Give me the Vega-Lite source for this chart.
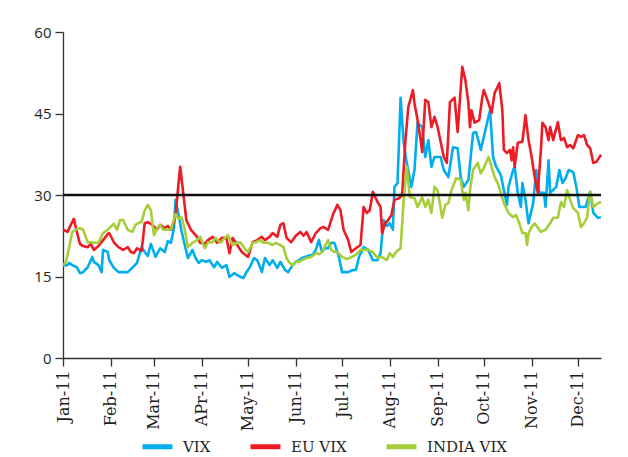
{
  "$schema": "https://vega.github.io/schema/vega-lite/v6.json",
  "autosize": {"type": "none"},
  "width": 538,
  "height": 326,
  "padding": {"left": 63, "top": 32, "right": 27, "bottom": 99},
  "background": "white",
  "config": {"view": {"stroke": null}, "axis": {"grid": false}},
  "datasets": {
    "vix": [
      {"date":"2011-01-01","series":"VIX","value":17.1},{"date":"2011-01-04","series":"VIX","value":17.1},{"date":"2011-01-05","series":"VIX","value":17.5},{"date":"2011-01-07","series":"VIX","value":17.1},{"date":"2011-01-10","series":"VIX","value":16.7},{"date":"2011-01-12","series":"VIX","value":15.6},{"date":"2011-01-14","series":"VIX","value":15.8},{"date":"2011-01-17","series":"VIX","value":16.7},{"date":"2011-01-20","series":"VIX","value":18.6},{"date":"2011-01-21","series":"VIX","value":17.7},{"date":"2011-01-24","series":"VIX","value":17.1},{"date":"2011-01-26","series":"VIX","value":15.8},{"date":"2011-01-27","series":"VIX","value":19.9},{"date":"2011-01-30","series":"VIX","value":19.5},{"date":"2011-01-31","series":"VIX","value":18.0},
      {"date":"2011-02-03","series":"VIX","value":16.6},{"date":"2011-02-06","series":"VIX","value":15.8},{"date":"2011-02-09","series":"VIX","value":15.8},{"date":"2011-02-12","series":"VIX","value":15.8},{"date":"2011-02-15","series":"VIX","value":16.6},{"date":"2011-02-18","series":"VIX","value":17.5},{"date":"2011-02-21","series":"VIX","value":20.4},{"date":"2011-02-23","series":"VIX","value":19.5},{"date":"2011-02-25","series":"VIX","value":18.8},{"date":"2011-02-27","series":"VIX","value":21.0},
      {"date":"2011-03-02","series":"VIX","value":18.6},{"date":"2011-03-05","series":"VIX","value":20.2},{"date":"2011-03-08","series":"VIX","value":19.5},{"date":"2011-03-10","series":"VIX","value":21.5},{"date":"2011-03-12","series":"VIX","value":21.2},{"date":"2011-03-14","series":"VIX","value":23.9},{"date":"2011-03-15","series":"VIX","value":29.1},{"date":"2011-03-17","series":"VIX","value":26.3},{"date":"2011-03-19","series":"VIX","value":23.2},{"date":"2011-03-21","series":"VIX","value":20.8},{"date":"2011-03-23","series":"VIX","value":18.4},{"date":"2011-03-26","series":"VIX","value":19.9},{"date":"2011-03-28","series":"VIX","value":18.4},{"date":"2011-03-30","series":"VIX","value":17.5},
      {"date":"2011-04-01","series":"VIX","value":18.0},{"date":"2011-04-04","series":"VIX","value":17.7},{"date":"2011-04-06","series":"VIX","value":18.0},{"date":"2011-04-09","series":"VIX","value":16.7},{"date":"2011-04-11","series":"VIX","value":17.7},{"date":"2011-04-14","series":"VIX","value":16.6},{"date":"2011-04-17","series":"VIX","value":17.1},{"date":"2011-04-19","series":"VIX","value":14.9},{"date":"2011-04-22","series":"VIX","value":15.6},{"date":"2011-04-25","series":"VIX","value":15.1},{"date":"2011-04-28","series":"VIX","value":14.7},{"date":"2011-04-30","series":"VIX","value":15.8},
      {"date":"2011-05-02","series":"VIX","value":16.6},{"date":"2011-05-05","series":"VIX","value":18.4},{"date":"2011-05-07","series":"VIX","value":18.0},{"date":"2011-05-09","series":"VIX","value":16.6},{"date":"2011-05-10","series":"VIX","value":15.8},{"date":"2011-05-12","series":"VIX","value":18.4},{"date":"2011-05-15","series":"VIX","value":17.1},{"date":"2011-05-17","series":"VIX","value":18.0},{"date":"2011-05-20","series":"VIX","value":16.6},{"date":"2011-05-22","series":"VIX","value":17.7},{"date":"2011-05-25","series":"VIX","value":16.2},{"date":"2011-05-27","series":"VIX","value":15.8},{"date":"2011-05-30","series":"VIX","value":17.1},
      {"date":"2011-06-01","series":"VIX","value":17.7},{"date":"2011-06-03","series":"VIX","value":18.0},{"date":"2011-06-05","series":"VIX","value":18.4},{"date":"2011-06-07","series":"VIX","value":18.6},{"date":"2011-06-09","series":"VIX","value":18.8},{"date":"2011-06-12","series":"VIX","value":19.0},{"date":"2011-06-14","series":"VIX","value":19.9},{"date":"2011-06-16","series":"VIX","value":21.7},{"date":"2011-06-18","series":"VIX","value":19.5},{"date":"2011-06-20","series":"VIX","value":20.2},{"date":"2011-06-22","series":"VIX","value":20.2},{"date":"2011-06-24","series":"VIX","value":21.2},{"date":"2011-06-26","series":"VIX","value":21.2},{"date":"2011-06-29","series":"VIX","value":18.6},
      {"date":"2011-07-01","series":"VIX","value":15.8},{"date":"2011-07-03","series":"VIX","value":15.8},{"date":"2011-07-05","series":"VIX","value":15.8},{"date":"2011-07-08","series":"VIX","value":16.2},{"date":"2011-07-10","series":"VIX","value":16.2},{"date":"2011-07-12","series":"VIX","value":18.6},{"date":"2011-07-15","series":"VIX","value":20.4},{"date":"2011-07-18","series":"VIX","value":19.9},{"date":"2011-07-21","series":"VIX","value":18.0},{"date":"2011-07-24","series":"VIX","value":18.0},{"date":"2011-07-26","series":"VIX","value":19.3},{"date":"2011-07-28","series":"VIX","value":25.4},{"date":"2011-07-30","series":"VIX","value":24.3},
      {"date":"2011-08-01","series":"VIX","value":24.8},{"date":"2011-08-03","series":"VIX","value":23.6},{"date":"2011-08-04","series":"VIX","value":31.5},{"date":"2011-08-06","series":"VIX","value":32.2},{"date":"2011-08-08","series":"VIX","value":47.9},{"date":"2011-08-10","series":"VIX","value":39.6},{"date":"2011-08-12","series":"VIX","value":35.9},{"date":"2011-08-15","series":"VIX","value":31.5},{"date":"2011-08-17","series":"VIX","value":34.6},{"date":"2011-08-19","series":"VIX","value":43.3},{"date":"2011-08-22","series":"VIX","value":42.5},{"date":"2011-08-24","series":"VIX","value":37.0},{"date":"2011-08-26","series":"VIX","value":40.1},{"date":"2011-08-28","series":"VIX","value":35.2},{"date":"2011-08-30","series":"VIX","value":37.0},
      {"date":"2011-09-03","series":"VIX","value":37.0},{"date":"2011-09-05","series":"VIX","value":34.6},{"date":"2011-09-08","series":"VIX","value":33.3},{"date":"2011-09-11","series":"VIX","value":38.8},{"date":"2011-09-14","series":"VIX","value":38.6},{"date":"2011-09-16","series":"VIX","value":33.3},{"date":"2011-09-18","series":"VIX","value":31.5},{"date":"2011-09-21","series":"VIX","value":32.8},{"date":"2011-09-24","series":"VIX","value":41.4},{"date":"2011-09-26","series":"VIX","value":41.6},{"date":"2011-09-29","series":"VIX","value":38.3},
      {"date":"2011-10-01","series":"VIX","value":40.7},{"date":"2011-10-04","series":"VIX","value":44.4},{"date":"2011-10-05","series":"VIX","value":45.6},{"date":"2011-10-07","series":"VIX","value":37.0},{"date":"2011-10-09","series":"VIX","value":35.2},{"date":"2011-10-12","series":"VIX","value":33.7},{"date":"2011-10-14","series":"VIX","value":30.9},{"date":"2011-10-16","series":"VIX","value":28.2},{"date":"2011-10-17","series":"VIX","value":31.5},{"date":"2011-10-20","series":"VIX","value":34.6},{"date":"2011-10-21","series":"VIX","value":35.2},{"date":"2011-10-23","series":"VIX","value":30.4},{"date":"2011-10-25","series":"VIX","value":27.8},{"date":"2011-10-26","series":"VIX","value":32.2},{"date":"2011-10-28","series":"VIX","value":29.1},{"date":"2011-10-30","series":"VIX","value":24.8},
      {"date":"2011-11-02","series":"VIX","value":28.5},{"date":"2011-11-04","series":"VIX","value":34.6},{"date":"2011-11-06","series":"VIX","value":30.4},{"date":"2011-11-09","series":"VIX","value":30.4},{"date":"2011-11-10","series":"VIX","value":27.8},{"date":"2011-11-12","series":"VIX","value":36.4},{"date":"2011-11-13","series":"VIX","value":30.4},{"date":"2011-11-17","series":"VIX","value":31.5},{"date":"2011-11-19","series":"VIX","value":34.6},{"date":"2011-11-21","series":"VIX","value":32.2},{"date":"2011-11-23","series":"VIX","value":33.1},{"date":"2011-11-25","series":"VIX","value":34.6},{"date":"2011-11-28","series":"VIX","value":34.2},{"date":"2011-11-30","series":"VIX","value":31.5},
      {"date":"2011-12-02","series":"VIX","value":27.8},{"date":"2011-12-06","series":"VIX","value":27.8},{"date":"2011-12-09","series":"VIX","value":30.6},{"date":"2011-12-11","series":"VIX","value":26.7},{"date":"2011-12-14","series":"VIX","value":25.8},{"date":"2011-12-16","series":"VIX","value":25.9}
    ],
    "eu": [
      {"date":"2011-01-01","series":"EU VIX","value":23.6},{"date":"2011-01-04","series":"EU VIX","value":23.2},{"date":"2011-01-05","series":"EU VIX","value":23.9},{"date":"2011-01-08","series":"EU VIX","value":25.6},{"date":"2011-01-10","series":"EU VIX","value":23.2},{"date":"2011-01-12","series":"EU VIX","value":21.0},{"date":"2011-01-14","series":"EU VIX","value":20.6},{"date":"2011-01-17","series":"EU VIX","value":20.4},{"date":"2011-01-19","series":"EU VIX","value":21.0},{"date":"2011-01-21","series":"EU VIX","value":19.9},{"date":"2011-01-24","series":"EU VIX","value":20.6},{"date":"2011-01-27","series":"EU VIX","value":21.7},{"date":"2011-01-30","series":"EU VIX","value":22.8},{"date":"2011-01-31","series":"EU VIX","value":23.0},
      {"date":"2011-02-03","series":"EU VIX","value":21.3},{"date":"2011-02-06","series":"EU VIX","value":20.4},{"date":"2011-02-09","series":"EU VIX","value":19.9},{"date":"2011-02-12","series":"EU VIX","value":20.4},{"date":"2011-02-14","series":"EU VIX","value":19.5},{"date":"2011-02-16","series":"EU VIX","value":19.3},{"date":"2011-02-18","series":"EU VIX","value":20.2},{"date":"2011-02-21","series":"EU VIX","value":19.7},{"date":"2011-02-23","series":"EU VIX","value":24.8},{"date":"2011-02-25","series":"EU VIX","value":25.0},{"date":"2011-02-27","series":"EU VIX","value":24.7},
      {"date":"2011-03-03","series":"EU VIX","value":23.7},{"date":"2011-03-05","series":"EU VIX","value":24.5},{"date":"2011-03-08","series":"EU VIX","value":23.9},{"date":"2011-03-10","series":"EU VIX","value":24.3},{"date":"2011-03-12","series":"EU VIX","value":23.6},{"date":"2011-03-14","series":"EU VIX","value":25.0},{"date":"2011-03-15","series":"EU VIX","value":26.3},{"date":"2011-03-18","series":"EU VIX","value":35.2},{"date":"2011-03-20","series":"EU VIX","value":30.4},{"date":"2011-03-22","series":"EU VIX","value":25.4},{"date":"2011-03-25","series":"EU VIX","value":23.6},{"date":"2011-03-29","series":"EU VIX","value":22.3},{"date":"2011-03-31","series":"EU VIX","value":21.2},
      {"date":"2011-04-03","series":"EU VIX","value":21.0},{"date":"2011-04-05","series":"EU VIX","value":21.7},{"date":"2011-04-08","series":"EU VIX","value":22.3},{"date":"2011-04-11","series":"EU VIX","value":21.2},{"date":"2011-04-14","series":"EU VIX","value":22.1},{"date":"2011-04-17","series":"EU VIX","value":22.1},{"date":"2011-04-19","series":"EU VIX","value":19.3},{"date":"2011-04-21","series":"EU VIX","value":22.1},{"date":"2011-04-24","series":"EU VIX","value":20.8},{"date":"2011-04-27","series":"EU VIX","value":19.5},
      {"date":"2011-05-01","series":"EU VIX","value":18.6},{"date":"2011-05-04","series":"EU VIX","value":21.3},{"date":"2011-05-07","series":"EU VIX","value":21.7},{"date":"2011-05-10","series":"EU VIX","value":22.3},{"date":"2011-05-12","series":"EU VIX","value":21.7},{"date":"2011-05-15","series":"EU VIX","value":22.3},{"date":"2011-05-17","series":"EU VIX","value":23.0},{"date":"2011-05-20","series":"EU VIX","value":22.3},{"date":"2011-05-22","series":"EU VIX","value":24.5},{"date":"2011-05-24","series":"EU VIX","value":24.8},{"date":"2011-05-26","series":"EU VIX","value":22.1},{"date":"2011-05-29","series":"EU VIX","value":21.3},
      {"date":"2011-06-01","series":"EU VIX","value":22.5},{"date":"2011-06-04","series":"EU VIX","value":23.2},{"date":"2011-06-06","series":"EU VIX","value":22.5},{"date":"2011-06-08","series":"EU VIX","value":23.2},{"date":"2011-06-11","series":"EU VIX","value":21.3},{"date":"2011-06-14","series":"EU VIX","value":23.0},{"date":"2011-06-17","series":"EU VIX","value":23.9},{"date":"2011-06-19","series":"EU VIX","value":24.1},{"date":"2011-06-22","series":"EU VIX","value":23.6},{"date":"2011-06-25","series":"EU VIX","value":26.3},{"date":"2011-06-28","series":"EU VIX","value":28.2},{"date":"2011-06-30","series":"EU VIX","value":27.2},
      {"date":"2011-07-02","series":"EU VIX","value":23.6},{"date":"2011-07-05","series":"EU VIX","value":21.7},{"date":"2011-07-07","series":"EU VIX","value":19.5},{"date":"2011-07-10","series":"EU VIX","value":20.2},{"date":"2011-07-13","series":"EU VIX","value":20.8},{"date":"2011-07-15","series":"EU VIX","value":27.8},{"date":"2011-07-17","series":"EU VIX","value":26.7},{"date":"2011-07-19","series":"EU VIX","value":27.2},{"date":"2011-07-21","series":"EU VIX","value":30.6},{"date":"2011-07-24","series":"EU VIX","value":28.7},{"date":"2011-07-26","series":"EU VIX","value":27.8},{"date":"2011-07-27","series":"EU VIX","value":23.0},{"date":"2011-07-29","series":"EU VIX","value":24.8},{"date":"2011-07-31","series":"EU VIX","value":25.4},
      {"date":"2011-08-02","series":"EU VIX","value":26.3},{"date":"2011-08-04","series":"EU VIX","value":29.1},{"date":"2011-08-07","series":"EU VIX","value":29.4},{"date":"2011-08-09","series":"EU VIX","value":30.0},{"date":"2011-08-11","series":"EU VIX","value":39.6},{"date":"2011-08-13","series":"EU VIX","value":46.2},{"date":"2011-08-16","series":"EU VIX","value":49.3},{"date":"2011-08-17","series":"EU VIX","value":46.9},{"date":"2011-08-19","series":"EU VIX","value":43.8},{"date":"2011-08-21","series":"EU VIX","value":40.1},{"date":"2011-08-22","series":"EU VIX","value":37.9},{"date":"2011-08-24","series":"EU VIX","value":47.5},{"date":"2011-08-26","series":"EU VIX","value":47.1},{"date":"2011-08-28","series":"EU VIX","value":42.5},{"date":"2011-08-30","series":"EU VIX","value":44.4},
      {"date":"2011-09-01","series":"EU VIX","value":42.5},{"date":"2011-09-05","series":"EU VIX","value":37.0},{"date":"2011-09-07","series":"EU VIX","value":35.9},{"date":"2011-09-09","series":"EU VIX","value":47.1},{"date":"2011-09-12","series":"EU VIX","value":47.9},{"date":"2011-09-14","series":"EU VIX","value":41.6},{"date":"2011-09-17","series":"EU VIX","value":53.6},{"date":"2011-09-19","series":"EU VIX","value":51.2},{"date":"2011-09-21","series":"EU VIX","value":46.9},{"date":"2011-09-22","series":"EU VIX","value":42.5},{"date":"2011-09-23","series":"EU VIX","value":45.6},{"date":"2011-09-25","series":"EU VIX","value":43.3},{"date":"2011-09-28","series":"EU VIX","value":43.8},{"date":"2011-09-30","series":"EU VIX","value":48.0},
      {"date":"2011-10-01","series":"EU VIX","value":49.3},{"date":"2011-10-04","series":"EU VIX","value":46.9},{"date":"2011-10-06","series":"EU VIX","value":45.1},{"date":"2011-10-08","series":"EU VIX","value":48.8},{"date":"2011-10-10","series":"EU VIX","value":49.9},{"date":"2011-10-11","series":"EU VIX","value":50.6},{"date":"2011-10-13","series":"EU VIX","value":45.6},{"date":"2011-10-14","series":"EU VIX","value":38.3},{"date":"2011-10-16","series":"EU VIX","value":37.7},{"date":"2011-10-18","series":"EU VIX","value":38.3},{"date":"2011-10-19","series":"EU VIX","value":36.4},{"date":"2011-10-20","series":"EU VIX","value":38.8},{"date":"2011-10-21","series":"EU VIX","value":35.2},{"date":"2011-10-23","series":"EU VIX","value":39.6},{"date":"2011-10-26","series":"EU VIX","value":39.8},{"date":"2011-10-28","series":"EU VIX","value":44.7},{"date":"2011-10-30","series":"EU VIX","value":40.1},
      {"date":"2011-11-01","series":"EU VIX","value":37.0},{"date":"2011-11-03","series":"EU VIX","value":33.3},{"date":"2011-11-05","series":"EU VIX","value":30.4},{"date":"2011-11-07","series":"EU VIX","value":38.3},{"date":"2011-11-08","series":"EU VIX","value":43.3},{"date":"2011-11-10","series":"EU VIX","value":42.5},{"date":"2011-11-12","series":"EU VIX","value":40.1},{"date":"2011-11-13","series":"EU VIX","value":42.5},{"date":"2011-11-15","series":"EU VIX","value":40.1},{"date":"2011-11-18","series":"EU VIX","value":43.4},{"date":"2011-11-20","series":"EU VIX","value":40.1},{"date":"2011-11-22","series":"EU VIX","value":40.5},{"date":"2011-11-24","series":"EU VIX","value":38.8},{"date":"2011-11-26","series":"EU VIX","value":39.2},{"date":"2011-11-28","series":"EU VIX","value":38.6},
      {"date":"2011-12-01","series":"EU VIX","value":41.0},{"date":"2011-12-03","series":"EU VIX","value":40.7},{"date":"2011-12-05","series":"EU VIX","value":41.0},{"date":"2011-12-07","series":"EU VIX","value":39.2},{"date":"2011-12-09","series":"EU VIX","value":38.6},{"date":"2011-12-11","series":"EU VIX","value":35.9},{"date":"2011-12-13","series":"EU VIX","value":36.1},{"date":"2011-12-16","series":"EU VIX","value":37.4}
    ],
    "india": [
      {"date":"2011-01-01","series":"INDIA VIX","value":17.1},{"date":"2011-01-03","series":"INDIA VIX","value":17.7},{"date":"2011-01-05","series":"INDIA VIX","value":20.4},{"date":"2011-01-07","series":"INDIA VIX","value":23.2},{"date":"2011-01-09","series":"INDIA VIX","value":23.6},{"date":"2011-01-12","series":"INDIA VIX","value":23.9},{"date":"2011-01-14","series":"INDIA VIX","value":23.6},{"date":"2011-01-17","series":"INDIA VIX","value":21.3},{"date":"2011-01-19","series":"INDIA VIX","value":21.3},{"date":"2011-01-21","series":"INDIA VIX","value":21.2},{"date":"2011-01-24","series":"INDIA VIX","value":21.2},{"date":"2011-01-27","series":"INDIA VIX","value":23.0},{"date":"2011-01-30","series":"INDIA VIX","value":23.6},{"date":"2011-01-31","series":"INDIA VIX","value":23.9},
      {"date":"2011-02-03","series":"INDIA VIX","value":24.7},{"date":"2011-02-05","series":"INDIA VIX","value":23.6},{"date":"2011-02-07","series":"INDIA VIX","value":25.4},{"date":"2011-02-09","series":"INDIA VIX","value":25.4},{"date":"2011-02-12","series":"INDIA VIX","value":23.6},{"date":"2011-02-15","series":"INDIA VIX","value":23.2},{"date":"2011-02-17","series":"INDIA VIX","value":24.5},{"date":"2011-02-20","series":"INDIA VIX","value":25.0},{"date":"2011-02-21","series":"INDIA VIX","value":25.0},{"date":"2011-02-23","series":"INDIA VIX","value":27.2},{"date":"2011-02-25","series":"INDIA VIX","value":28.2},{"date":"2011-02-27","series":"INDIA VIX","value":27.2},
      {"date":"2011-03-01","series":"INDIA VIX","value":22.6},{"date":"2011-03-03","series":"INDIA VIX","value":23.9},{"date":"2011-03-05","series":"INDIA VIX","value":24.5},{"date":"2011-03-07","series":"INDIA VIX","value":23.6},{"date":"2011-03-10","series":"INDIA VIX","value":23.6},{"date":"2011-03-12","series":"INDIA VIX","value":23.7},{"date":"2011-03-15","series":"INDIA VIX","value":26.5},{"date":"2011-03-17","series":"INDIA VIX","value":25.6},{"date":"2011-03-19","series":"INDIA VIX","value":25.9},{"date":"2011-03-21","series":"INDIA VIX","value":23.6},{"date":"2011-03-23","series":"INDIA VIX","value":20.4},{"date":"2011-03-26","series":"INDIA VIX","value":21.2},{"date":"2011-03-29","series":"INDIA VIX","value":21.7},{"date":"2011-03-31","series":"INDIA VIX","value":22.3},
      {"date":"2011-04-03","series":"INDIA VIX","value":20.2},{"date":"2011-04-05","series":"INDIA VIX","value":21.3},{"date":"2011-04-08","series":"INDIA VIX","value":21.3},{"date":"2011-04-10","series":"INDIA VIX","value":22.1},{"date":"2011-04-13","series":"INDIA VIX","value":21.2},{"date":"2011-04-16","series":"INDIA VIX","value":22.1},{"date":"2011-04-18","series":"INDIA VIX","value":22.6},{"date":"2011-04-21","series":"INDIA VIX","value":20.8},{"date":"2011-04-24","series":"INDIA VIX","value":21.2},{"date":"2011-04-26","series":"INDIA VIX","value":21.3},{"date":"2011-04-29","series":"INDIA VIX","value":20.1},
      {"date":"2011-05-01","series":"INDIA VIX","value":19.5},{"date":"2011-05-04","series":"INDIA VIX","value":21.2},{"date":"2011-05-06","series":"INDIA VIX","value":21.3},{"date":"2011-05-09","series":"INDIA VIX","value":21.7},{"date":"2011-05-11","series":"INDIA VIX","value":21.2},{"date":"2011-05-14","series":"INDIA VIX","value":21.2},{"date":"2011-05-17","series":"INDIA VIX","value":20.8},{"date":"2011-05-19","series":"INDIA VIX","value":21.2},{"date":"2011-05-22","series":"INDIA VIX","value":20.8},{"date":"2011-05-24","series":"INDIA VIX","value":20.4},{"date":"2011-05-26","series":"INDIA VIX","value":18.4},{"date":"2011-05-28","series":"INDIA VIX","value":17.5},{"date":"2011-05-30","series":"INDIA VIX","value":17.1},
      {"date":"2011-06-01","series":"INDIA VIX","value":17.7},{"date":"2011-06-03","series":"INDIA VIX","value":17.7},{"date":"2011-06-05","series":"INDIA VIX","value":18.0},{"date":"2011-06-08","series":"INDIA VIX","value":18.4},{"date":"2011-06-11","series":"INDIA VIX","value":18.6},{"date":"2011-06-14","series":"INDIA VIX","value":19.3},{"date":"2011-06-16","series":"INDIA VIX","value":19.1},{"date":"2011-06-18","series":"INDIA VIX","value":19.5},{"date":"2011-06-22","series":"INDIA VIX","value":21.7},{"date":"2011-06-24","series":"INDIA VIX","value":19.9},{"date":"2011-06-26","series":"INDIA VIX","value":19.5},{"date":"2011-06-28","series":"INDIA VIX","value":19.5},
      {"date":"2011-07-01","series":"INDIA VIX","value":18.6},{"date":"2011-07-04","series":"INDIA VIX","value":18.2},{"date":"2011-07-06","series":"INDIA VIX","value":18.4},{"date":"2011-07-10","series":"INDIA VIX","value":19.0},{"date":"2011-07-13","series":"INDIA VIX","value":19.9},{"date":"2011-07-16","series":"INDIA VIX","value":19.9},{"date":"2011-07-18","series":"INDIA VIX","value":19.9},{"date":"2011-07-21","series":"INDIA VIX","value":19.5},{"date":"2011-07-24","series":"INDIA VIX","value":18.4},{"date":"2011-07-27","series":"INDIA VIX","value":18.6},{"date":"2011-07-30","series":"INDIA VIX","value":18.0},
      {"date":"2011-08-01","series":"INDIA VIX","value":19.3},{"date":"2011-08-03","series":"INDIA VIX","value":18.6},{"date":"2011-08-05","series":"INDIA VIX","value":19.5},{"date":"2011-08-08","series":"INDIA VIX","value":20.2},{"date":"2011-08-10","series":"INDIA VIX","value":29.1},{"date":"2011-08-12","series":"INDIA VIX","value":35.2},{"date":"2011-08-14","series":"INDIA VIX","value":29.6},{"date":"2011-08-17","series":"INDIA VIX","value":29.4},{"date":"2011-08-19","series":"INDIA VIX","value":27.8},{"date":"2011-08-22","series":"INDIA VIX","value":29.6},{"date":"2011-08-24","series":"INDIA VIX","value":27.8},{"date":"2011-08-26","series":"INDIA VIX","value":29.1},{"date":"2011-08-28","series":"INDIA VIX","value":26.7},{"date":"2011-08-30","series":"INDIA VIX","value":31.5},
      {"date":"2011-09-01","series":"INDIA VIX","value":30.9},{"date":"2011-09-04","series":"INDIA VIX","value":25.8},{"date":"2011-09-06","series":"INDIA VIX","value":28.2},{"date":"2011-09-08","series":"INDIA VIX","value":28.5},{"date":"2011-09-10","series":"INDIA VIX","value":30.9},{"date":"2011-09-13","series":"INDIA VIX","value":33.1},{"date":"2011-09-16","series":"INDIA VIX","value":32.8},{"date":"2011-09-18","series":"INDIA VIX","value":29.1},{"date":"2011-09-19","series":"INDIA VIX","value":30.4},{"date":"2011-09-21","series":"INDIA VIX","value":27.2},{"date":"2011-09-22","series":"INDIA VIX","value":30.9},{"date":"2011-09-24","series":"INDIA VIX","value":34.6},{"date":"2011-09-27","series":"INDIA VIX","value":35.9},{"date":"2011-09-29","series":"INDIA VIX","value":34.0},
      {"date":"2011-10-01","series":"INDIA VIX","value":35.0},{"date":"2011-10-04","series":"INDIA VIX","value":37.0},{"date":"2011-10-06","series":"INDIA VIX","value":35.2},{"date":"2011-10-08","series":"INDIA VIX","value":33.3},{"date":"2011-10-10","series":"INDIA VIX","value":32.2},{"date":"2011-10-12","series":"INDIA VIX","value":30.4},{"date":"2011-10-14","series":"INDIA VIX","value":28.5},{"date":"2011-10-17","series":"INDIA VIX","value":26.7},{"date":"2011-10-20","series":"INDIA VIX","value":25.9},{"date":"2011-10-22","series":"INDIA VIX","value":26.3},{"date":"2011-10-24","series":"INDIA VIX","value":24.8},{"date":"2011-10-26","series":"INDIA VIX","value":23.0},{"date":"2011-10-28","series":"INDIA VIX","value":23.0},{"date":"2011-10-29","series":"INDIA VIX","value":20.8},{"date":"2011-10-30","series":"INDIA VIX","value":23.0},
      {"date":"2011-11-01","series":"INDIA VIX","value":24.1},{"date":"2011-11-03","series":"INDIA VIX","value":24.8},{"date":"2011-11-07","series":"INDIA VIX","value":23.2},{"date":"2011-11-10","series":"INDIA VIX","value":23.6},{"date":"2011-11-13","series":"INDIA VIX","value":24.8},{"date":"2011-11-15","series":"INDIA VIX","value":25.8},{"date":"2011-11-18","series":"INDIA VIX","value":25.8},{"date":"2011-11-20","series":"INDIA VIX","value":28.7},{"date":"2011-11-22","series":"INDIA VIX","value":27.8},{"date":"2011-11-24","series":"INDIA VIX","value":30.9},{"date":"2011-11-26","series":"INDIA VIX","value":29.1},{"date":"2011-11-28","series":"INDIA VIX","value":27.6},
      {"date":"2011-12-01","series":"INDIA VIX","value":26.7},{"date":"2011-12-03","series":"INDIA VIX","value":24.1},{"date":"2011-12-05","series":"INDIA VIX","value":24.8},{"date":"2011-12-07","series":"INDIA VIX","value":25.9},{"date":"2011-12-09","series":"INDIA VIX","value":30.6},{"date":"2011-12-11","series":"INDIA VIX","value":27.8},{"date":"2011-12-14","series":"INDIA VIX","value":28.5},{"date":"2011-12-16","series":"INDIA VIX","value":28.7}
    ]
  },
  "layer": [
    {
      "data": {"name": "vix"},
      "mark": {"type": "line", "strokeWidth": 2.6, "strokeJoin": "round"},
      "encoding": {
        "x": {"field": "date", "type": "temporal",
          "scale": {"type": "utc", "domain": [{"year": 2011, "month": 1, "date": 1, "utc": true}, {"year": 2011, "month": 12, "date": 16, "utc": true}]},
          "axis": {"title": null,
            "values": [{"year":2011,"month":1,"date":1,"utc":true},{"year":2011,"month":2,"date":1,"utc":true},{"year":2011,"month":3,"date":1,"utc":true},{"year":2011,"month":4,"date":1,"utc":true},{"year":2011,"month":5,"date":1,"utc":true},{"year":2011,"month":6,"date":1,"utc":true},{"year":2011,"month":7,"date":1,"utc":true},{"year":2011,"month":8,"date":1,"utc":true},{"year":2011,"month":9,"date":1,"utc":true},{"year":2011,"month":10,"date":1,"utc":true},{"year":2011,"month":11,"date":1,"utc":true},{"year":2011,"month":12,"date":1,"utc":true}],
            "labelExpr": "utcFormat(datum.value, '%b-%y') == 'Apr-11' ? 'APr-11' : utcFormat(datum.value, '%b-%y')",
            "labelAngle": -90, "labelAlign": "right", "labelBaseline": "middle",
            "labelFont": "DejaVu Serif", "labelFontSize": 16, "labelColor": "#231F20",
            "labelPadding": 4, "labelOverlap": false, "labelFlush": false,
            "tickSize": 8, "tickColor": "#333333", "tickWidth": 1.3,
            "domainColor": "#333333", "domainWidth": 1.3}
        },
        "y": {"field": "value", "type": "quantitative",
          "scale": {"domain": [0, 60]},
          "axis": {"title": null, "values": [0, 15, 30, 45, 60],
            "labelFont": "Open Sans", "labelFontSize": 15, "labelColor": "#231F20",
            "labelPadding": 4, "tickSize": 8, "tickColor": "#333333", "tickWidth": 1.3,
            "domainColor": "#333333", "domainWidth": 1.3}
        },
        "color": {"field": "series", "type": "nominal",
          "scale": {"domain": ["VIX", "EU VIX", "INDIA VIX"], "range": ["#00AEEF", "#ED1C24", "#A6CE39"]},
          "legend": {"orient": "none", "legendX": 77, "legendY": 397, "direction": "horizontal", "title": null,
            "symbolType": "stroke", "symbolSize": 900, "symbolStrokeWidth": 5,
            "labelFont": "DejaVu Serif", "labelFontSize": 15, "labelColor": "#231F20",
            "labelOffset": 8, "columnPadding": 29, "padding": 0}
        }
      }
    },
    {
      "data": {"name": "eu"},
      "mark": {"type": "line", "strokeWidth": 2.6, "strokeJoin": "round"},
      "encoding": {
        "x": {"field": "date", "type": "temporal"},
        "y": {"field": "value", "type": "quantitative"},
        "color": {"field": "series", "type": "nominal"}
      }
    },
    {
      "data": {"name": "india"},
      "mark": {"type": "line", "strokeWidth": 2.6, "strokeJoin": "round"},
      "encoding": {
        "x": {"field": "date", "type": "temporal"},
        "y": {"field": "value", "type": "quantitative"},
        "color": {"field": "series", "type": "nominal"}
      }
    },
    {
      "data": {"values": [{}]},
      "mark": {"type": "rule", "color": "#111111", "strokeWidth": 2.6},
      "encoding": {"y": {"datum": 30}}
    }
  ]
}
